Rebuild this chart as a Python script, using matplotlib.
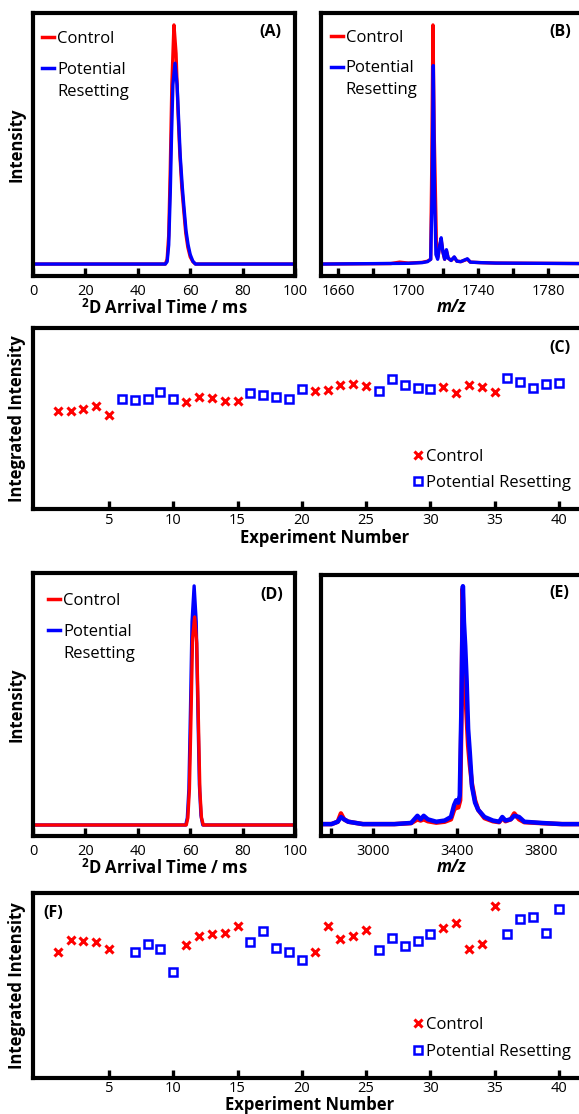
import numpy as np
import matplotlib
matplotlib.use("Agg")
import matplotlib.pyplot as plt
from matplotlib.lines import Line2D

plt.rcParams["font.family"] = ["Open Sans", "DejaVu Sans"]
plt.rcParams["mathtext.fontset"] = "custom"
plt.rcParams["mathtext.rm"] = "Open Sans"
plt.rcParams["mathtext.bf"] = "Open Sans:bold"
plt.rcParams["mathtext.it"] = "Open Sans:italic"

RED = "#ff0000"
BLUE = "#0000ff"

# ---- panel A: arrival time distributions (normalised to control peak)
a_x_red = [0, 50.5, 51.2, 51.8, 52.4, 53.0, 53.8, 54.6, 55.3, 56.0, 56.8, 57.5, 58.3, 59.1, 60.0, 61.0, 62.0, 100]
a_y_red = [0, 0, 0.02, 0.12, 0.40, 0.75, 1.00, 0.88, 0.65, 0.47, 0.32, 0.23, 0.13, 0.07, 0.03, 0.01, 0, 0]
a_x_blue = [0, 50.5, 51.2, 51.8, 52.4, 52.9, 53.4, 54.2, 55.0, 55.6, 56.2, 57.0, 57.6, 58.4, 59.2, 60.0, 61.0, 62.0, 100]
a_y_blue = [0, 0, 0.01, 0.08, 0.30, 0.55, 0.75, 0.84, 0.75, 0.60, 0.45, 0.32, 0.24, 0.14, 0.08, 0.04, 0.012, 0, 0]

# ---- panel B: mass spectrum
b_x_red = [1650, 1690, 1695, 1700, 1708, 1711, 1712.8, 1713.4, 1714.1, 1714.8, 1715.6, 1716.2, 1717.0, 1718.0, 1718.8,
           1719.8, 1720.8, 1721.8, 1722.8, 1724.5, 1726.3, 1727.8, 1730, 1733.8, 1735.5, 1741, 1750, 1800]
b_y_red = [0, 0.002, 0.008, 0.004, 0.007, 0.012, 0.02, 0.4, 1.00, 0.55, 0.26, 0.04, 0.03, 0.08, 0.10,
           0.05, 0.02, 0.055, 0.025, 0.015, 0.028, 0.012, 0.01, 0.02, 0.008, 0.006, 0.004, 0.002]
b_x_blue = [1650, 1700, 1708, 1711, 1712.8, 1713.6, 1714.3, 1715.0, 1715.8, 1716.8, 1718.0, 1718.8, 1719.8,
            1720.8, 1721.8, 1722.8, 1724.5, 1726.3, 1727.8, 1730, 1733.8, 1735.5, 1741, 1750, 1800]
b_y_blue = [0, 0.003, 0.006, 0.01, 0.02, 0.30, 0.83, 0.30, 0.04, 0.02, 0.08, 0.11, 0.05,
            0.02, 0.06, 0.025, 0.015, 0.03, 0.012, 0.01, 0.022, 0.008, 0.006, 0.004, 0.002]

# ---- panels C and F: integrated intensity per experiment
c_ctrl_n = [1, 2, 3, 4, 5, 11, 12, 13, 14, 15, 21, 22, 23, 24, 25, 31, 32, 33, 34, 35]
c_ctrl_v = [54.3, 54.3, 55.4, 57.1, 52.1, 59.3, 61.9, 61.5, 59.5, 59.5,
            65.4, 65.7, 68.7, 69.1, 68.0, 67.4, 63.9, 68.7, 67.2, 64.6]
c_reset_n = [6, 7, 8, 9, 10, 16, 17, 18, 19, 20, 26, 27, 28, 29, 30, 36, 37, 38, 39, 40]
c_reset_v = [61.0, 60.4, 60.6, 64.5, 60.8, 64.1, 62.8, 62.1, 60.8, 66.3,
             65.0, 72.0, 68.5, 67.0, 66.3, 72.4, 70.3, 66.7, 69.2, 69.4]

f_ctrl_n = [1, 2, 3, 4, 5, 11, 12, 13, 14, 15, 21, 22, 23, 24, 25, 31, 32, 33, 34, 35]
f_ctrl_v = [68.1, 74.4, 74.2, 73.5, 69.9, 71.9, 76.9, 77.8, 78.6, 82.3,
            68.3, 82.3, 75.1, 76.8, 80.2, 80.9, 83.8, 69.7, 72.6, 93.2]
f_reset_n = [7, 8, 9, 10, 16, 17, 18, 19, 20, 26, 27, 28, 29, 30, 36, 37, 38, 39, 40]
f_reset_v = [68.1, 72.6, 69.7, 57.5, 73.3, 79.3, 70.3, 68.3, 64.0,
             69.4, 75.5, 71.5, 74.1, 77.7, 78.0, 85.8, 87.2, 78.4, 91.4]

# ---- panel D: arrival time distributions (normalised to resetting peak)
d_x_red = [0, 58.5, 59.1, 59.7, 60.3, 60.9, 61.7, 62.5, 63.1, 63.7, 64.3, 65.0, 100]
d_y_red = [0, 0, 0.03, 0.15, 0.45, 0.78, 0.87, 0.76, 0.45, 0.14, 0.03, 0, 0]
d_x_blue = [0, 58.3, 58.9, 59.5, 60.1, 60.7, 61.5, 62.3, 62.9, 63.5, 64.1, 64.8, 100]
d_y_blue = [0, 0, 0.03, 0.15, 0.48, 0.85, 1.00, 0.85, 0.50, 0.17, 0.04, 0, 0]

# ---- panel E: mass spectrum
e_x_red = [2750, 2800, 2830, 2845, 2860, 2880, 2950, 3100, 3180, 3210, 3225, 3240, 3260, 3300, 3340, 3370,
           3385, 3395, 3405, 3414, 3420, 3426, 3431, 3436, 3445, 3452, 3460, 3470, 3485, 3500, 3530, 3570,
           3600, 3615, 3630, 3655, 3672, 3695, 3720, 3800, 3900, 4000]
e_y_red = [0, 0, 0.01, 0.045, 0.02, 0.01, 0.0, 0.0, 0.004, 0.02, 0.015, 0.02, 0.012, 0.006, 0.01, 0.02,
           0.06, 0.07, 0.07, 0.10, 0.45, 0.99, 0.80, 0.60, 0.45, 0.33, 0.25, 0.17, 0.10, 0.06, 0.025, 0.012,
           0.008, 0.025, 0.012, 0.02, 0.045, 0.02, 0.008, 0.004, 0.0, 0.0]
e_x_blue = [2750, 2800, 2830, 2845, 2860, 2880, 2950, 3100, 3180, 3210, 3225, 3240, 3260, 3300, 3340, 3370,
            3385, 3395, 3405, 3412, 3420, 3427, 3432, 3438, 3445, 3452, 3460, 3470, 3485, 3500, 3530, 3570,
            3600, 3615, 3630, 3655, 3672, 3695, 3720, 3800, 3900, 4000]
e_y_blue = [0, 0, 0.01, 0.03, 0.02, 0.01, 0.0, 0.0, 0.005, 0.035, 0.02, 0.035, 0.02, 0.01, 0.015, 0.03,
            0.08, 0.10, 0.09, 0.12, 0.50, 1.00, 0.85, 0.75, 0.60, 0.40, 0.30, 0.16, 0.09, 0.06, 0.03, 0.015,
            0.01, 0.03, 0.015, 0.02, 0.035, 0.03, 0.01, 0.005, 0.0, 0.0]

W, H = 579, 1114
fig = plt.figure(figsize=(W / 100, H / 100), dpi=100)


def add_ax(left, top, right, bottom):
    return fig.add_axes([left / W, 1 - bottom / H, (right - left) / W, (bottom - top) / H])


def style(ax, pad=6):
    for s in ax.spines.values():
        s.set_linewidth(3.0)
    ax.tick_params(axis="x", direction="in", length=6, width=2.4, pad=pad, labelsize=10.5)
    ax.set_yticks([])


def spec_legend(ax, x0, y_ctrl, y_pot):
    h_red = Line2D([], [], color=RED, lw=2.5)
    h_blue = Line2D([], [], color=BLUE, lw=2.5)
    h_none = Line2D([], [], color="none")
    kw = dict(loc="upper left", frameon=False, fontsize=12, handlelength=0.75, handletextpad=0.15,
              borderpad=0, borderaxespad=0)
    leg1 = ax.legend([h_red], ["Control"], bbox_to_anchor=(x0, y_ctrl), **kw)
    ax.add_artist(leg1)
    ax.legend([h_blue, h_none], ["Potential", "Resetting"], bbox_to_anchor=(x0, y_pot),
              labelspacing=0.35, **kw)


def scat_legend(ax, anchor):
    handles = [Line2D([], [], ls="none", marker="x", ms=5.5, mew=2.2, color=RED),
               Line2D([], [], ls="none", marker="s", ms=6, mew=1.8, mfc="white", mec=BLUE)]
    ax.legend(handles, ["Control", "Potential Resetting"], loc="upper left", bbox_to_anchor=anchor,
              frameon=False, fontsize=12, handlelength=0.5, handletextpad=0.2, labelspacing=0.62,
              borderpad=0, borderaxespad=0)


label_kw = dict(fontsize=12, fontweight="bold")
panel_kw = dict(fontsize=11.5, fontweight="bold")

# A
axA = add_ax(33, 13, 295, 276)
style(axA)
axA.plot(a_x_red, a_y_red, color=RED, lw=2.4)
axA.plot(a_x_blue, a_y_blue, color=BLUE, lw=2.4)
axA.set_xlim(0, 100)
axA.set_ylim(-0.05, 1.05)
axA.set_xticks([0, 20, 40, 60, 80, 100])
axA.set_xlabel(r"$^{\mathbf{2}}$D Arrival Time / ms", **label_kw)
axA.xaxis.set_label_coords(0.5, -0.085)
axA.set_ylabel("Intensity", **label_kw)
axA.yaxis.set_label_coords(-0.03, 0.5)
axA.text(0.905, 0.928, "(A)", transform=axA.transAxes, ha="center", va="center", **panel_kw)
spec_legend(axA, 0.034, 0.933, 0.814)

# B
axB = add_ax(321, 13, 583, 276)
style(axB)
axB.plot(b_x_red, b_y_red, color=RED, lw=2.4)
axB.plot(b_x_blue, b_y_blue, color=BLUE, lw=2.4)
axB.set_xlim(1650, 1800)
axB.set_ylim(-0.05, 1.05)
axB.set_xticks([1660, 1680, 1700, 1720, 1740, 1760, 1780])
axB.set_xticklabels(["1660", "", "1700", "", "1740", "", "1780"])
axB.set_xlabel("m/z", fontstyle="italic", **label_kw)
axB.xaxis.set_label_coords(0.5, -0.085)
axB.text(0.912, 0.928, "(B)", transform=axB.transAxes, ha="center", va="center", **panel_kw)
spec_legend(axB, 0.037, 0.937, 0.820)

# C
axC = add_ax(33, 328, 600, 509)
style(axC, pad=3)
axC.plot(c_ctrl_n, c_ctrl_v, ls="none", marker="x", ms=5.5, mew=2.2, color=RED)
axC.plot(c_reset_n, c_reset_v, ls="none", marker="s", ms=6, mew=1.8, mfc="white", mec=BLUE)
axC.set_xlim(-0.92, 43.2)
axC.set_ylim(0, 100)
axC.set_xticks([5, 10, 15, 20, 25, 30, 35, 40])
axC.set_xlabel("Experiment Number", **label_kw)
axC.xaxis.set_label_coords(0.515, -0.11)
axC.set_ylabel("Integrated Intensity", **label_kw)
axC.yaxis.set_label_coords(-0.012, 0.5)
axC.text(0.929, 0.89, "(C)", transform=axC.transAxes, ha="center", va="center", **panel_kw)
scat_legend(axC, (0.672, 0.332))

# D
axD = add_ax(33, 573, 295, 836)
style(axD)
axD.plot(d_x_blue, d_y_blue, color=BLUE, lw=2.4)
axD.plot(d_x_red, d_y_red, color=RED, lw=2.4)
axD.set_xlim(0, 100)
axD.set_ylim(-0.046, 1.054)
axD.set_xticks([0, 20, 40, 60, 80, 100])
axD.set_xlabel(r"$^{\mathbf{2}}$D Arrival Time / ms", **label_kw)
axD.xaxis.set_label_coords(0.5, -0.085)
axD.set_ylabel("Intensity", **label_kw)
axD.yaxis.set_label_coords(-0.03, 0.5)
axD.text(0.911, 0.916, "(D)", transform=axD.transAxes, ha="center", va="center", **panel_kw)
spec_legend(axD, 0.057, 0.923, 0.806)

# E
axE = add_ax(321, 575, 583, 836)
style(axE)
axE.plot(e_x_red, e_y_red, color=RED, lw=3.2)
axE.plot(e_x_blue, e_y_blue, color=BLUE, lw=3.2)
axE.set_xlim(2750, 4000)
axE.set_ylim(-0.05, 1.047)
axE.set_xticks([2800, 3000, 3200, 3400, 3600, 3800])
axE.set_xticklabels(["", "3000", "", "3400", "", "3800"])
axE.set_xlabel("m/z", fontstyle="italic", **label_kw)
axE.xaxis.set_label_coords(0.5, -0.085)
axE.text(0.908, 0.931, "(E)", transform=axE.transAxes, ha="center", va="center", **panel_kw)

# F
axF = add_ax(33, 893, 600, 1078)
style(axF, pad=2)
axF.plot(f_ctrl_n, f_ctrl_v, ls="none", marker="x", ms=5.5, mew=2.2, color=RED)
axF.plot(f_reset_n, f_reset_v, ls="none", marker="s", ms=6, mew=1.8, mfc="white", mec=BLUE)
axF.set_xlim(-0.92, 43.2)
axF.set_ylim(0, 100)
axF.set_xticks([5, 10, 15, 20, 25, 30, 35, 40])
axF.set_xlabel("Experiment Number", **label_kw)
axF.xaxis.set_label_coords(0.488, -0.098)
axF.set_ylabel("Integrated Intensity", **label_kw)
axF.yaxis.set_label_coords(-0.012, 0.5)
axF.text(0.036, 0.89, "(F)", transform=axF.transAxes, ha="center", va="center", **panel_kw)
scat_legend(axF, (0.672, 0.328))

fig.savefig("out.png", dpi=100)
